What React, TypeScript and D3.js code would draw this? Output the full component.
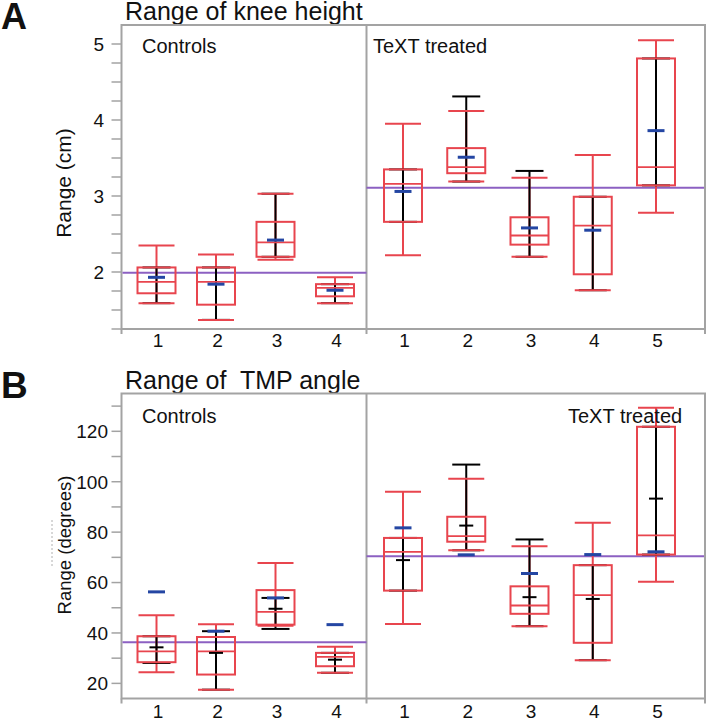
import React from "react";
import * as d3 from "d3";

// ---------- DATA ----------
const groupsCtrl = ["1", "2", "3", "4"];
const groupsTreated = ["1", "2", "3", "4", "5"];

// Panel A: Range of knee height (cm)
const kneeCtrlMin = [1.59, 1.37, 2.16, 1.59];
const kneeCtrlQ1 = [1.72, 1.57, 2.2, 1.68];
const kneeCtrlMed = [1.87, 1.87, 2.39, 1.79];
const kneeCtrlQ3 = [2.06, 2.06, 2.66, 1.84];
const kneeCtrlMax = [2.35, 2.23, 3.03, 1.93];
const kneeCtrlMean = [1.93, 1.84, 2.42, 1.76];
const kneeCtrlBarLo = [1.59, 1.37, 2.2, 1.59];
const kneeCtrlBarHi = [2.06, 2.06, 3.03, 1.84];

const kneeTrtMin = [2.22, 3.19, 2.2, 1.76, 2.78];
const kneeTrtQ1 = [2.66, 3.3, 2.36, 1.97, 3.14];
const kneeTrtMed = [3.16, 3.38, 2.48, 2.61, 3.38];
const kneeTrtQ3 = [3.35, 3.63, 2.72, 2.99, 4.81];
const kneeTrtMax = [3.95, 4.12, 3.24, 3.54, 5.05];
const kneeTrtMean = [3.06, 3.51, 2.58, 2.55, 3.86];
const kneeTrtBarLo = [2.66, 3.19, 2.2, 1.76, 3.14];
const kneeTrtBarHi = [3.35, 4.31, 3.33, 2.99, 4.81];

const kneeRefCtrl = 1.99;
const kneeRefTrt = 3.11;
const kneeTicks = [2, 3, 4, 5];

// Panel B: Range of TMP angle (degrees)
const tmpCtrlMin = [24.4, 17.5, 42.9, 24.2];
const tmpCtrlQ1 = [28.4, 23.5, 43.3, 26.8];
const tmpCtrlMed = [32.7, 32.7, 48.4, 30.5];
const tmpCtrlQ3 = [38.7, 38.4, 57.0, 32.1];
const tmpCtrlMax = [47.0, 43.5, 67.8, 34.5];
const tmpCtrlMean = [56.3, 40.7, 53.9, 43.3];
const tmpCtrlMid = [34.3, 32.1, 49.6, 29.4];
const tmpCtrlBarLo = [28.1, 17.5, 41.6, 24.2];
const tmpCtrlBarHi = [38.7, 40.7, 53.9, 32.1];

const tmpTrtMin = [43.6, 72.8, 42.7, 29.2, 60.3];
const tmpTrtQ1 = [56.8, 76.2, 47.6, 36.1, 71.1];
const tmpTrtMed = [72.2, 78.4, 50.9, 55.0, 78.7];
const tmpTrtQ3 = [77.7, 86.1, 58.5, 66.9, 121.8];
const tmpTrtMax = [96.0, 101.2, 74.4, 83.7, 129.3];
const tmpTrtMean = [81.7, 71.0, 63.6, 71.1, 72.2];
const tmpTrtMid = [68.9, 82.6, 54.2, 53.5, 93.3];
const tmpTrtBarLo = [56.8, 72.8, 42.7, 29.2, 71.1];
const tmpTrtBarHi = [77.7, 106.8, 77.1, 66.9, 121.8];

const tmpRefCtrl = 36.3;
const tmpRefTrt = 70.4;
const tmpTicks = [20, 40, 60, 80, 100, 120];

// ---------- STYLE ----------
const FONT = "'Liberation Sans', Arial, Helvetica, sans-serif";
const RED = "#e8454e";
const BLUE = "#2446a3";
const PURPLE = "#8c60c2";
const FRAME = "#a3a3a3";

type Group = {
  key: string;
  min: number; q1: number; med: number; q3: number; max: number;
  mean: number; mid: number | null; lo: number; hi: number;
};

function build(keys: string[], min: number[], q1: number[], med: number[], q3: number[], max: number[],
  mean: number[], mid: (number[] | null), lo: number[], hi: number[]): Group[] {
  return keys.map((k, i) => ({
    key: k, min: min[i], q1: q1[i], med: med[i], q3: q3[i], max: max[i],
    mean: mean[i], mid: mid ? mid[i] : null, lo: lo[i], hi: hi[i],
  }));
}

const BOX_W = 38;
const CAP_W = 36;
const BCAP_W = 28;
const MID_W = 14;
const MEAN_W = 17;

function Boxes({ groups, x, y }: { groups: Group[]; x: d3.ScalePoint<string>; y: d3.ScaleLinear<number, number> }) {
  return (
    <g>
      {groups.map((g) => {
        const cx = x(g.key) as number;
        return (
          <g key={g.key}>
            <line x1={cx} x2={cx} y1={y(g.min)} y2={y(g.max)} stroke={RED} strokeWidth={2} />
            <line x1={cx} x2={cx} y1={y(g.lo)} y2={y(g.hi)} stroke="#000" strokeWidth={2} />
            <line x1={cx - BCAP_W / 2} x2={cx + BCAP_W / 2} y1={y(g.lo)} y2={y(g.lo)} stroke="#000" strokeWidth={2} />
            <line x1={cx - BCAP_W / 2} x2={cx + BCAP_W / 2} y1={y(g.hi)} y2={y(g.hi)} stroke="#000" strokeWidth={2} />
            <line x1={cx - CAP_W / 2} x2={cx + CAP_W / 2} y1={y(g.min)} y2={y(g.min)} stroke={RED} strokeWidth={2} />
            <line x1={cx - CAP_W / 2} x2={cx + CAP_W / 2} y1={y(g.max)} y2={y(g.max)} stroke={RED} strokeWidth={2} />
            <rect x={cx - BOX_W / 2} width={BOX_W} y={y(g.q3)} height={y(g.q1) - y(g.q3)} fill="none" stroke={RED} strokeWidth={2} />
            <line x1={cx - BOX_W / 2} x2={cx + BOX_W / 2} y1={y(g.med)} y2={y(g.med)} stroke={RED} strokeWidth={1.8} />
            {g.mid !== null && (
              <line x1={cx - MID_W / 2} x2={cx + MID_W / 2} y1={y(g.mid)} y2={y(g.mid)} stroke="#000" strokeWidth={2} />
            )}
            <line x1={cx - MEAN_W / 2} x2={cx + MEAN_W / 2} y1={y(g.mean)} y2={y(g.mean)} stroke={BLUE} strokeWidth={3} />
          </g>
        );
      })}
    </g>
  );
}

type PanelProps = {
  top: number; bottom: number;
  domain: [number, number];
  ticks: number[]; minorStep: number;
  ctrl: Group[]; trt: Group[];
  refCtrl: number; refTrt: number;
  tickLabelX: number; xLabelY: number;
  labelBaseline: number; trtLabelX: number;
  yLabel: string; yLabelCy: number; yLabelSize: number;
  fmt: (v: number) => string;
};

const LEFT = 121.5;
const DIV = 366.5;
const RIGHT = 705;

function Panel(p: PanelProps) {
  const y = d3.scaleLinear().domain(p.domain).range([p.bottom, p.top]);
  const xc = d3.scalePoint<string>().domain(groupsCtrl).range([156.5, 335]);
  const xt = d3.scalePoint<string>().domain(groupsTreated).range([403, 656]);
  const minor = d3.range(Math.ceil(p.domain[0] / p.minorStep) * p.minorStep, p.domain[1], p.minorStep);
  return (
    <g>
      {/* frame */}
      <rect x={LEFT} y={p.top} width={RIGHT - LEFT} height={p.bottom - p.top} fill="none" stroke={FRAME} strokeWidth={2} />
      <line x1={DIV} x2={DIV} y1={p.top} y2={p.bottom} stroke={FRAME} strokeWidth={2} />
      {[LEFT, DIV, RIGHT].map((xx) => (
        <line key={xx} x1={xx} x2={xx} y1={p.bottom} y2={p.bottom + 5} stroke={FRAME} strokeWidth={2} />
      ))}
      {/* y ticks */}
      {minor.map((v) => (
        <line key={v} x1={LEFT - 10} x2={LEFT} y1={y(v)} y2={y(v)} stroke={FRAME} strokeWidth={1.5} />
      ))}
      {p.ticks.map((v) => (
        <text key={v} x={p.tickLabelX} y={y(v)} dy="0.36em" textAnchor="end" fontSize={19} fontFamily={FONT} fill="#111">
          {p.fmt(v)}
        </text>
      ))}
      {/* reference lines */}
      <line x1={LEFT + 1} x2={DIV} y1={y(p.refCtrl)} y2={y(p.refCtrl)} stroke={PURPLE} strokeWidth={2} />
      <line x1={DIV} x2={RIGHT - 1} y1={y(p.refTrt)} y2={y(p.refTrt)} stroke={PURPLE} strokeWidth={2} />
      <Boxes groups={p.ctrl} x={xc} y={y} />
      <Boxes groups={p.trt} x={xt} y={y} />
      {/* x labels */}
      {groupsCtrl.map((k) => (
        <text key={"c" + k} x={(xc(k) as number) + 1.5} y={p.xLabelY} textAnchor="middle" fontSize={19} fontFamily={FONT} fill="#111">{k}</text>
      ))}
      {groupsTreated.map((k) => (
        <text key={"t" + k} x={(xt(k) as number) + 1.5} y={p.xLabelY} textAnchor="middle" fontSize={19} fontFamily={FONT} fill="#111">{k}</text>
      ))}
      {/* group labels */}
      <text x={142} y={p.labelBaseline} fontSize={20} fontFamily={FONT} fill="#111">Controls</text>
      <text x={p.trtLabelX} y={p.labelBaseline} fontSize={20} fontFamily={FONT} fill="#111">TeXT treated</text>
      {/* y label */}
      <text
        transform={`translate(71,${p.yLabelCy}) rotate(-90)`}
        textAnchor="middle" fontSize={p.yLabelSize} fontFamily={FONT} fill="#111"
      >
        {p.yLabel}
      </text>
    </g>
  );
}

export default function App() {
  const kneeCtrl = build(groupsCtrl, kneeCtrlMin, kneeCtrlQ1, kneeCtrlMed, kneeCtrlQ3, kneeCtrlMax, kneeCtrlMean, null, kneeCtrlBarLo, kneeCtrlBarHi);
  const kneeTrt = build(groupsTreated, kneeTrtMin, kneeTrtQ1, kneeTrtMed, kneeTrtQ3, kneeTrtMax, kneeTrtMean, null, kneeTrtBarLo, kneeTrtBarHi);
  const tmpCtrl = build(groupsCtrl, tmpCtrlMin, tmpCtrlQ1, tmpCtrlMed, tmpCtrlQ3, tmpCtrlMax, tmpCtrlMean, tmpCtrlMid, tmpCtrlBarLo, tmpCtrlBarHi);
  const tmpTrt = build(groupsTreated, tmpTrtMin, tmpTrtQ1, tmpTrtMed, tmpTrtQ3, tmpTrtMax, tmpTrtMean, tmpTrtMid, tmpTrtBarLo, tmpTrtBarHi);

  return (
    <svg width={708} height={721} style={{ position: "absolute", left: 0, top: 0, background: "#fff" }}>
      <rect x={0} y={0} width={708} height={721} fill="#fff" />
      {/* Panel A */}
      <text x={1} y={29} fontSize={36} fontWeight="bold" fontFamily={FONT} fill="#111">A</text>
      <text x={125} y={19.5} fontSize={25} fontFamily={FONT} fill="#111">Range of knee height</text>
      <Panel
        top={25} bottom={329} domain={[1.25, 5.25]} ticks={kneeTicks} minorStep={0.25}
        ctrl={kneeCtrl} trt={kneeTrt} refCtrl={kneeRefCtrl} refTrt={kneeRefTrt}
        tickLabelX={104} xLabelY={347} labelBaseline={53} trtLabelX={373}
        yLabel="Range (cm)" yLabelCy={183} yLabelSize={21}
        fmt={(v) => String(v)}
      />
      {/* Panel B */}
      <text x={1} y={398} fontSize={37} fontWeight="bold" fontFamily={FONT} fill="#111">B</text>
      <text x={125} y={389} fontSize={25} fontFamily={FONT} fill="#111" style={{ whiteSpace: "pre" }}>{"Range of  TMP angle"}</text>
      <Panel
        top={393.5} bottom={698.5} domain={[14, 135]} ticks={tmpTicks} minorStep={10}
        ctrl={tmpCtrl} trt={tmpTrt} refCtrl={tmpRefCtrl} refTrt={tmpRefTrt}
        tickLabelX={108} xLabelY={718} labelBaseline={422.5} trtLabelX={568}
        yLabel="Range (degrees)" yLabelCy={545} yLabelSize={18.5}
        fmt={(v) => String(v)}
      />
      <line x1={52} x2={52} y1={520} y2={567} stroke="#b0b0b0" strokeWidth={1} strokeDasharray="2,2" />
    </svg>
  );
}
